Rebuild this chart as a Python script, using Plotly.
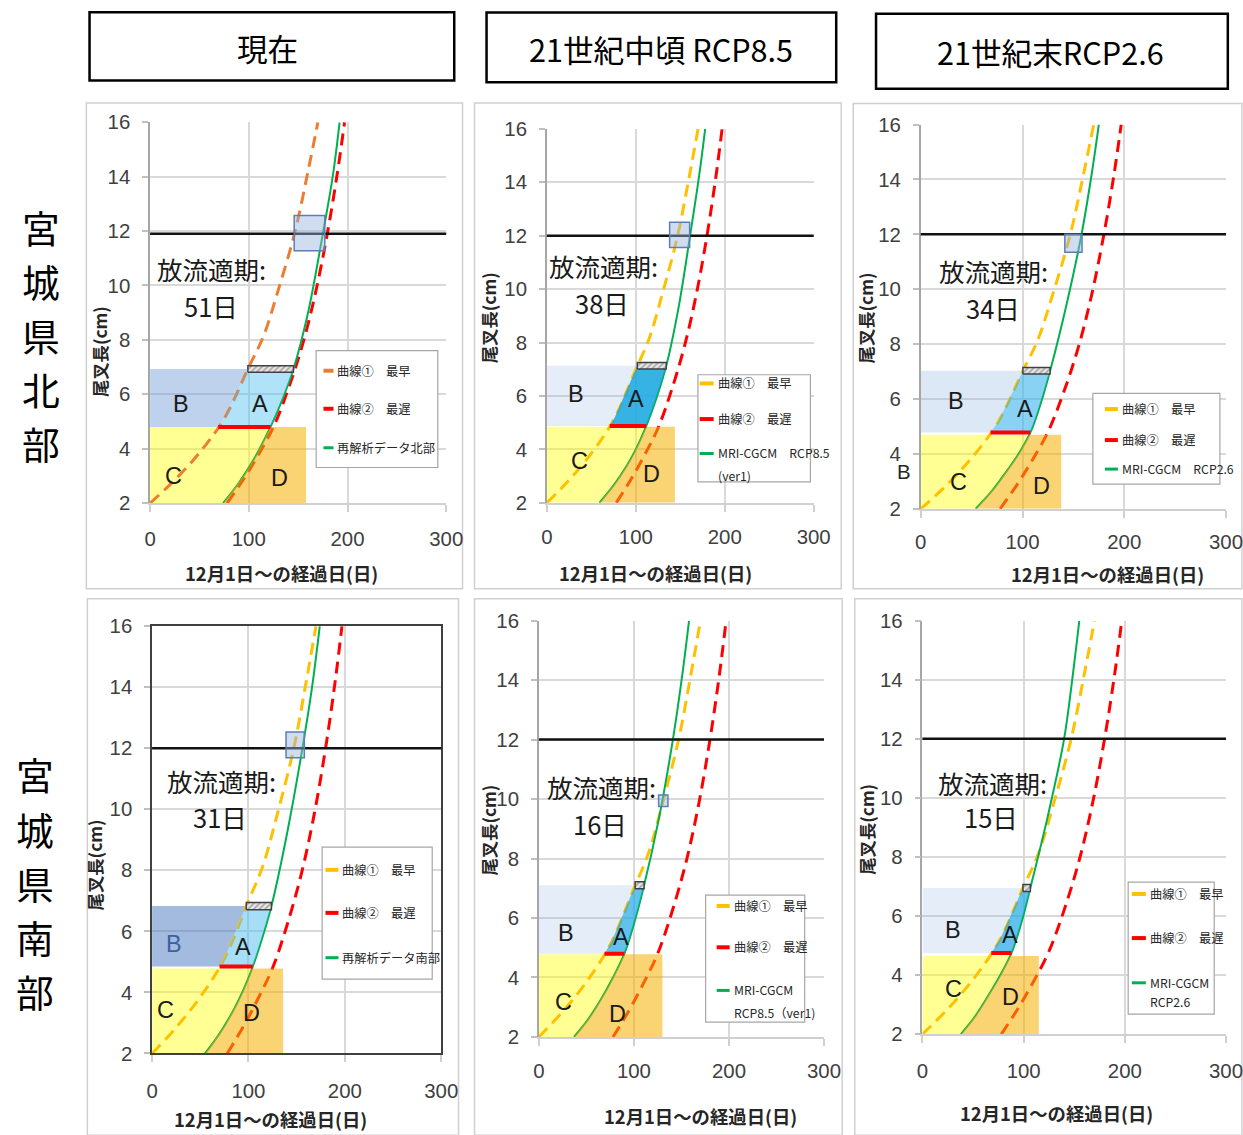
import numpy as np
import plotly.graph_objects as go

W, H = 1243, 1135
CJK = "Noto Sans CJK JP"
NUM = "Liberation Sans Narrow, Liberation Sans, Arial"

# ---- reference growth curves (days after Dec 1 -> fork length, cm)
early_day = [0, 25, 50, 75, 100, 115, 130, 147, 160, 170]
early_len = [2.0, 2.85, 3.85, 5.1, 7.0, 8.15, 9.85, 12.0, 14.2, 16.0]
late_day = [78, 95, 110, 125, 140, 155, 168, 180, 190, 197]
late_len = [2.0, 2.9, 3.8, 4.8, 6.2, 7.9, 9.8, 12.0, 14.2, 16.0]

# ---- simulated growth for each region / period
north_now_day = [74, 90, 105, 122, 135, 145, 160, 175, 185, 192]
north_now_len = [2.0, 2.75, 3.6, 4.8, 5.9, 6.9, 9.0, 11.9, 14.0, 16.0]
north_rcp85_day = [59, 75, 90, 100, 112, 123, 134, 148, 161, 171, 178]
north_rcp85_len = [2.0, 2.65, 3.4, 4.0, 4.9, 5.9, 7.1, 9.3, 12.0, 14.2, 16.0]
north_rcp26_day = [54, 70, 85, 97, 108, 118, 128, 143, 158, 168, 175]
north_rcp26_len = [2.0, 2.65, 3.4, 4.05, 4.8, 5.85, 7.15, 9.4, 12.0, 14.2, 16.0]
south_now_day = [55, 70, 85, 95, 104, 114, 124, 140, 156, 166, 174]
south_now_len = [2.0, 2.65, 3.45, 4.1, 4.8, 5.75, 6.85, 9.2, 12.0, 14.0, 16.0]
south_rcp85_day = [37, 52, 66, 78, 90, 100, 110, 126, 141, 151, 158]
south_rcp85_len = [2.0, 2.6, 3.3, 4.0, 4.8, 5.8, 7.0, 9.3, 12.0, 14.2, 16.0]
south_rcp26_day = [38, 52, 65, 77, 88, 98, 107, 124, 140, 148, 155]
south_rcp26_len = [2.0, 2.6, 3.3, 4.0, 4.75, 5.8, 7.0, 9.4, 12.0, 14.0, 16.0]

model_days = [north_now_day, north_rcp85_day, north_rcp26_day,
              south_now_day, south_rcp85_day, south_rcp26_day]
model_lens = [north_now_len, north_rcp85_len, north_rcp26_len,
              south_now_len, south_rcp85_len, south_rcp26_len]
model_names = [["再解析データ北部"], ["MRI-CGCM　RCP8.5", "(ver1)"], ["MRI-CGCM　RCP2.6"],
               ["再解析データ南部"], ["MRI-CGCM", "RCP8.5（ver1)"], ["MRI-CGCM", "RCP2.6"]]
curve_names = ["曲線①　最早", "曲線②　最遅"]

# ---- per-panel values
release_days = [51, 38, 34, 31, 16, 15]
target_len = [11.9, 12.0, 12.0, 12.0, 12.0, 12.0]
zone_top = [6.93, 7.13, 7.03, 6.83, 7.10, 6.95]      # upper edge of A / B
zone_mid = [4.80, 4.88, 4.78, 4.85, 4.80, 4.75]      # lower edge of A / B
cd_top = [4.80, 4.85, 4.70, 4.78, 4.78, 4.65]        # upper edge of C / D
cd_right = [158, 144, 138, 136, 130, 115]            # right edge of D
hl_day0 = [146, 138, 141.6, 139, 126, None]
hl_day1 = [177, 160.5, 158.5, 158, 135.8, None]
hl_len0 = [11.28, 11.56, 11.35, 11.69, 9.75, None]
hl_len1 = [12.57, 12.5, 12.0, 12.53, 10.14, None]

headers = ["現在", "21世紀中頃 RCP8.5", "21世紀末RCP2.6"]
rows = ["宮城県北部", "宮城県南部"]

# ---- styling / placement
early_color = ["#ed7d31", "#ffc000", "#ffc000", "#ffc000", "#ffc000", "#ffc000"]
late_color = "#ff0000"
model_color = "#00b050"
a_fill = ["rgba(80,190,240,0.45)", "rgba(20,165,225,0.85)", "rgba(60,180,235,0.6)",
          "rgba(80,190,240,0.5)", "rgba(30,170,230,0.7)", "rgba(30,170,230,0.7)"]
b_fill = ["rgba(110,155,215,0.45)", "rgba(150,185,230,0.25)", "rgba(150,185,230,0.32)",
          "rgba(70,120,190,0.5)", "rgba(150,185,230,0.25)", "rgba(150,185,230,0.25)"]
c_fill = "rgba(255,255,0,0.42)"
d_fill = "rgba(245,175,0,0.55)"

# page geometry (target pixel positions) and the mapping into figure paper units
SX, OX = 0.981, 6.7
SY, OY = 0.980, 10.5
FS = 1 / 0.98

plot_px = [(150.7, 446.7, 121.7, 502.3), (547.3, 814.0, 128.3, 502.0), (921.0, 1228.3, 124.0, 508.0),
           (152.7, 441.7, 625.3, 1052.3), (539.3, 824.3, 619.8, 1035.8), (922.7, 1227.7, 619.8, 1033.0)]
xlabel_standoff = [10, 8, 7, 11, 8, 11]
frame_px = [(87, 102.5, 463, 588), (475, 102.5, 841.5, 588), (853.5, 103, 1242, 588),
            (88, 598, 459, 1134), (475, 598, 842.5, 1134), (855, 598, 1242, 1134)]
ytitle_px = [(100, 351), (489, 317), (866, 317), (95, 864), (488, 829), (866, 828)]
xtitle_px = [(282.5, 571.7), (656, 571.7), (1108, 573), (271, 1118), (701, 1115), (1057, 1111.5)]
legend_box_px = [(316.7, 350, 438.3, 466.7), (698.3, 374, 810.7, 481), (1093, 392.7, 1220, 483.3),
                 (322.7, 846, 432.7, 978), (706, 894, 805, 1021), (1128.3, 881, 1214.3, 1013)]
legend_rows_px = [[370, 408, 447, 469], [382.7, 418.3, 452.7, 475], [408.3, 439.3, 468.3, 490],
                  [868.8, 911.8, 956.6, 978], [904.9, 946.2, 989.3, 1011.7], [892.9, 937, 981.7, 1001.3]]
legend_swatch_px = [(324, 334), (700, 714), (1105, 1118), (326, 339), (717, 730), (1132, 1146)]
release_pos = [((62, 10.62), (62, 9.26)), ((63.4, 10.88), (62, 9.5)), ((71.3, 10.68), (70.6, 9.34)),
               ((71.6, 10.95), (70, 9.77)), ((65.6, 10.44), (63.9, 9.19)), ((68.9, 10.52), (67.9, 9.37))]
letter_pos = [
    {"B": (31, 5.64), "A": (111.5, 5.64), "C": (24, 3.0), "D": (131, 2.94)},
    {"B": (33, 6.07), "A": (100.5, 5.88), "C": (36.7, 3.57), "D": (117.4, 3.07)},
    {"B": (34.2, 5.94), "A": (102, 5.63), "C": (37.4, 2.96), "D": (118.5, 2.84)},
    {"B": (22.5, 5.59), "A": (94, 5.48), "C": (13.8, 3.44), "D": (103.5, 3.33)},
    {"B": (28.8, 5.48), "A": (86.7, 5.36), "C": (26.3, 3.16), "D": (83.2, 2.76)},
    {"B": (30.2, 5.52), "A": (86.6, 5.35), "C": (30.2, 3.54), "D": (87.5, 3.25)},
]
header_box_px = [(90.2, 11.7, 454.7, 80), (487, 12, 836.5, 81.7), (876.3, 13.3, 1227.9, 88.3)]
header_text_px = [(268, 47), (661, 48), (1051, 51)]
row_text_px = [(41.7, 226), (36, 773)]   # centre of the first character
row_pitch = 54


def px_x(v):
    return min(max((v - OX) / SX / W, -0.05), 1.05)


def px_y(v):
    return min(max(1 - (v - OY) / SY / H, -0.05), 1.05)


def fs(v):
    return v * FS


fig = go.Figure()
shapes = []
annotations = []
layout_axes = {}

for i in range(6):
    xa = "x" if i == 0 else f"x{i + 1}"
    ya = "y" if i == 0 else f"y{i + 1}"
    g_day, g_len = model_days[i], model_lens[i]
    lo, hi = zone_mid[i], zone_top[i]

    # zone boundaries follow the curves
    ys = np.linspace(lo, hi, 40)
    left = np.interp(ys, early_len, early_day)
    right = np.interp(ys, g_len, g_day)
    yc = np.linspace(2.0, cd_top[i], 40)
    gc = np.minimum(np.interp(yc, g_len, g_day), cd_right[i])

    common = dict(xaxis=xa, yaxis=ya, showlegend=False, hoverinfo="skip")

    # B and C under the curves
    fig.add_trace(go.Scatter(x=[0, *left, 0], y=[lo, *ys, hi], fill="toself",
                             fillcolor=b_fill[i], line=dict(width=0), mode="lines", **common))
    fig.add_trace(go.Scatter(x=[0, *gc, 0], y=[2.0, *yc, cd_top[i]], fill="toself",
                             fillcolor=c_fill, line=dict(width=0), mode="lines", **common))

    # growth curves
    fig.add_trace(go.Scatter(x=early_day, y=early_len, mode="lines", name=curve_names[0],
                             line=dict(color=early_color[i], width=3, dash="12px,7px", shape="spline"),
                             **common))
    fig.add_trace(go.Scatter(x=late_day, y=late_len, mode="lines", name=curve_names[1],
                             line=dict(color=late_color, width=3, dash="12px,7px", shape="spline"),
                             **common))
    fig.add_trace(go.Scatter(x=g_day, y=g_len, mode="lines", name=" ".join(model_names[i]),
                             line=dict(color=model_color, width=2, shape="spline"), **common))

    # A and D over the curves
    fig.add_trace(go.Scatter(x=[*left, *right[::-1]], y=[*ys, *ys[::-1]], fill="toself",
                             fillcolor=a_fill[i], line=dict(width=0), mode="lines", **common))
    fig.add_trace(go.Scatter(x=[*gc, cd_right[i], cd_right[i]], y=[*yc, cd_top[i], 2.0], fill="toself",
                             fillcolor=d_fill, line=dict(width=0), mode="lines", **common))

    # hatched bar on top of A
    x0, x1 = np.interp(hi, early_len, early_day), np.interp(hi, g_len, g_day)
    fig.add_trace(go.Scatter(x=[x0, x1, x1, x0, x0], y=[hi - 0.12, hi - 0.12, hi + 0.12, hi + 0.12, hi - 0.12],
                             fill="toself", fillcolor="white", mode="lines",
                             fillpattern=dict(shape="/", fgcolor="#606060", bgcolor="#e8e8e8", size=4, solidity=0.4),
                             line=dict(color="#404040", width=1.5), **common))

    # red bar at bottom of A
    fig.add_trace(go.Scatter(x=[left[0], right[0]], y=[lo, lo], mode="lines",
                             line=dict(color="#ff0000", width=4), **common))

    # release size line
    shapes.append(dict(type="line", xref=f"{xa} domain", yref=ya, x0=0, x1=1,
                       y0=target_len[i], y1=target_len[i], line=dict(color="#111111", width=2.5)))

    # highlight box
    if hl_day0[i] is not None:
        shapes.append(dict(type="rect", xref=xa, yref=ya, x0=hl_day0[i], x1=hl_day1[i],
                           y0=hl_len0[i], y1=hl_len1[i], fillcolor="rgba(150,180,225,0.45)",
                           line=dict(color="#5b7fb5", width=1.5), layer="above"))

    # axes
    px0, px1, py0, py1 = plot_px[i]
    framed = i == 3
    layout_axes["xaxis" if i == 0 else f"xaxis{i + 1}"] = dict(
        domain=[max(px_x(px0), 0), min(px_x(px1), 1)], anchor=ya, range=[0, 300],
        tickvals=[0, 100, 200, 300], ticklabeloverflow="allow",
        showgrid=True, gridcolor="#d9d9d9", gridwidth=1.5, zeroline=False,
        showline=True, linecolor="#404040" if framed else "#d0d0d0", linewidth=1.5, mirror=framed,
        ticks="outside", ticklen=7, tickcolor="#d0d0d0", tickwidth=1.5,
        tickfont=dict(family=NUM, size=fs(20), color="#404040"), ticklabelstandoff=xlabel_standoff[i],
        fixedrange=True)
    layout_axes["yaxis" if i == 0 else f"yaxis{i + 1}"] = dict(
        domain=[max(px_y(py1), 0), min(px_y(py0), 1)], anchor=xa, range=[2, 16], tick0=2, dtick=2,
        showgrid=True, gridcolor="#d9d9d9", gridwidth=1.5, zeroline=False,
        showline=True, linecolor="#404040" if framed else "#a6a6a6", linewidth=1.5, mirror=framed,
        ticks="outside", ticklen=6, tickcolor="#bfbfbf", tickwidth=1.5,
        tickfont=dict(family=NUM, size=fs(20), color="#404040"), ticklabelstandoff=8, fixedrange=True)

    # panel frame
    fx0, fy0, fx1, fy1 = frame_px[i]
    shapes.append(dict(type="rect", xref="paper", yref="paper", x0=px_x(fx0), x1=px_x(fx1),
                       y0=px_y(fy1), y1=px_y(fy0), line=dict(color="#d0d0d0", width=1.5), layer="below"))

    # axis titles
    tx, ty = ytitle_px[i]
    annotations.append(dict(xref="paper", yref="paper", x=px_x(tx), y=px_y(ty), text="尾叉長(cm)",
                            textangle=-90, showarrow=False, xanchor="center", yanchor="middle",
                            font=dict(family=CJK, size=fs(17), color="#262626", weight="bold")))
    tx, ty = xtitle_px[i]
    annotations.append(dict(xref="paper", yref="paper", x=px_x(tx), y=px_y(ty), text="12月1日～の経過日(日)",
                            showarrow=False, xanchor="center", yanchor="middle",
                            font=dict(family=CJK, size=fs(18), color="#262626", weight="bold")))

    # release period text
    (hx, hy), (nx, ny) = release_pos[i]
    annotations.append(dict(xref=xa, yref=ya, x=hx, y=hy, text="放流適期:", showarrow=False,
                            font=dict(family=CJK, size=fs(25), color="#1a1a1a")))
    annotations.append(dict(xref=xa, yref=ya, x=nx, y=ny, text=f"{release_days[i]}日", showarrow=False,
                            font=dict(family=CJK, size=fs(25), color="#1a1a1a")))

    # zone letters
    for letter, (lx, ly) in letter_pos[i].items():
        col = "#3f5f9f" if (framed and letter == "B") else "#1a1a1a"
        annotations.append(dict(xref=xa, yref=ya, x=lx, y=ly, text=letter, showarrow=False,
                                font=dict(family=NUM, size=fs(23), color=col)))

    # legend box
    bx0, by0, bx1, by1 = legend_box_px[i]
    shapes.append(dict(type="rect", xref="paper", yref="paper", x0=px_x(bx0), x1=px_x(bx1),
                       y0=px_y(by1), y1=px_y(by0), fillcolor="white",
                       line=dict(color="#a6a6a6", width=1.2), layer="above"))
    sx0, sx1 = legend_swatch_px[i]
    rows_y = legend_rows_px[i]
    entries = [(curve_names[0], early_color[i], 4), (curve_names[1], late_color, 4),
               (model_names[i][0], model_color, 3)]
    for k, (label, col, lw) in enumerate(entries):
        shapes.append(dict(type="line", xref="paper", yref="paper", x0=px_x(sx0), x1=px_x(sx1),
                           y0=px_y(rows_y[k]), y1=px_y(rows_y[k]), line=dict(color=col, width=lw),
                           layer="above"))
        annotations.append(dict(xref="paper", yref="paper", x=px_x(sx1 + 2), y=px_y(rows_y[k]),
                                text=label, showarrow=False, xanchor="left", yanchor="middle",
                                font=dict(family=CJK, size=fs(12), color="#262626")))
    if len(model_names[i]) > 1:
        annotations.append(dict(xref="paper", yref="paper", x=px_x(sx1 + 2), y=px_y(rows_y[3]),
                                text=model_names[i][1], showarrow=False, xanchor="left", yanchor="middle",
                                font=dict(family=CJK, size=fs(12), color="#262626")))

# stray label beside the y=4 tick of the upper-right panel
annotations.append(dict(xref="paper", yref="paper", x=px_x(913), y=px_y(471), text="B", showarrow=False,
                        font=dict(family=NUM, size=fs(20), color="#262626")))

# column headers
for text, (bx0, by0, bx1, by1), (tx, ty) in zip(headers, header_box_px, header_text_px):
    shapes.append(dict(type="rect", xref="paper", yref="paper", x0=px_x(bx0), x1=px_x(bx1),
                       y0=px_y(by1), y1=px_y(by0), line=dict(color="#000000", width=2.5)))
    annotations.append(dict(xref="paper", yref="paper", x=px_x(tx), y=px_y(ty), text=text, showarrow=False,
                            xanchor="center", yanchor="middle",
                            font=dict(family=CJK, size=fs(30), color="#000000")))

# row headers, one character per line
for text, (tx, ty) in zip(rows, row_text_px):
    for k, ch in enumerate(text):
        annotations.append(dict(xref="paper", yref="paper", x=px_x(tx), y=px_y(ty + k * row_pitch), text=ch,
                                showarrow=False, xanchor="center", yanchor="middle",
                                font=dict(family=CJK, size=fs(37), color="#000000")))

fig.update_layout(
    width=W, height=H, margin=dict(l=0, r=0, t=0, b=0),
    paper_bgcolor="white", plot_bgcolor="white", showlegend=False,
    shapes=shapes, annotations=annotations, **layout_axes,
)

fig.write_html("out.html")
